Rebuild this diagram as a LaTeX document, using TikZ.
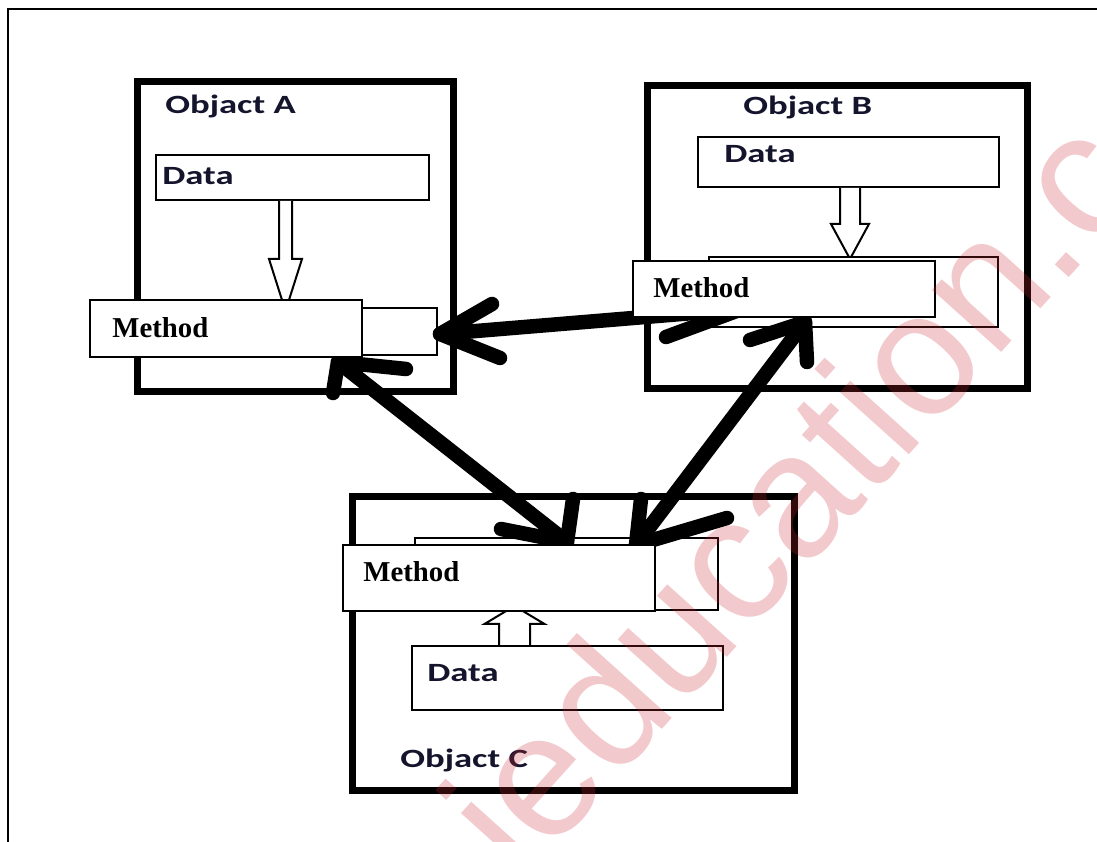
\documentclass[tikz,border=0pt]{standalone}
\usepackage{fontspec}
\setmainfont{Liberation Serif}
\newfontfamily\objfont[FakeStretch=1.39]{Carlito}
\newfontfamily\wmfont{Liberation Sans}
\definecolor{labelink}{RGB}{20,20,45}
\definecolor{wmred}{RGB}{205,40,50}
\tikzset{
  objbox/.style={draw, line width=0.14cm, inner sep=0pt},
  databox/.style={draw, line width=0.04cm, fill=white, inner sep=0pt},
  methbox/.style={draw, line width=0.05cm, fill=white, inner sep=0pt},
  hollow/.style={draw, line width=0.04cm, fill=white, line join=miter},
  fatline/.style={line width=0.29cm, line cap=round, line join=round},
  objtext/.style={anchor=base west, inner sep=0pt, text=labelink, font=\objfont\bfseries\fontsize{15}{18}\selectfont},
  methtext/.style={anchor=base west, inner sep=0pt, font=\bfseries\fontsize{16.4}{20}\selectfont},
  wmark/.style={anchor=base west, inner sep=0pt, rotate=48, text=wmred, text opacity=0.25, font=\wmfont\fontsize{100}{100}\selectfont}
}
\begin{document}
\begin{tikzpicture}
\useasboundingbox (0,0) rectangle (21.94,16.84);
\clip (0,0) rectangle (21.94,16.84);

% Drawing frame
\draw [line width=0.05cm] (0.16,0) -- (0.16,16.66) -- (21.94,16.66);%

% Drawing objects
\node [objbox, minimum width=6.32cm, minimum height=6.20cm] (objA) at (5.90,12.10) {};%
\node [objbox, minimum width=7.60cm, minimum height=6.06cm] (objB) at (16.74,12.09) {};%
\node [objbox, minimum width=8.84cm, minimum height=5.88cm] (objC) at (11.46,3.96) {};%

% Drawing data boxes
\node [databox, minimum width=5.46cm, minimum height=0.90cm] (dataA) at (5.85,13.29) {};%
\node [databox, minimum width=6.02cm, minimum height=1.00cm] (dataB) at (16.97,13.60) {};%
\node [databox, minimum width=6.22cm, minimum height=1.28cm] (dataC) at (11.35,3.28) {};%

% Drawing hollow arrows data -> method
\draw [hollow] ([xshift=-0.27cm]dataA.south) -- ++(0,-1.16) -- ++(-0.20,0) -- ++(0.33,-1.04) -- ++(0.33,1.04) -- ++(-0.20,0) -- ++(0,1.16);%
\draw [hollow] ([xshift=-0.17cm]dataB.south) -- ++(0,-0.72) -- ++(-0.18,0) -- ++(0.38,-0.70) -- ++(0.38,0.70) -- ++(-0.18,0) -- ++(0,0.72);%
\draw [hollow] ([xshift=-1.37cm]dataC.north) -- ++(0,0.42) -- ++(-0.29,0) -- ++(0.60,0.36) -- ++(0.60,-0.36) -- ++(-0.29,0) -- ++(0,-0.42);%

% Drawing method boxes behind
\node [databox, minimum width=3.94cm, minimum height=0.94cm] (methAback) at (6.77,10.21) {};%
\node [databox, minimum width=5.78cm, minimum height=1.40cm] (methBback) at (17.07,11.00) {};%
\node [databox, minimum width=6.06cm, minimum height=1.44cm] (methCback) at (11.33,5.36) {};%

% Drawing message arrow A <-> B
\coordinate (abA) at (8.80,10.16);%
\coordinate (abB) at (14.84,10.66);%
\draw [fatline] (abA) -- (abB);%
\draw [fatline] (9.84,10.76) -- (abA) -- (10.00,9.68);%
\draw [fatline] (13.32,10.10) -- (abB) -- (13.80,11.14);%

% Drawing message arrow A <-> C
\coordinate (acA) at (6.76,9.60);%
\coordinate (acC) at (11.34,6.00);%
\draw [fatline] (acA) -- (acC);%
\draw [fatline] (6.66,8.98) -- (acA) -- (8.12,9.46);%
\draw [fatline] (11.46,6.86) -- (acC) -- (10.02,6.26);%

% Drawing message arrow B <-> C
\coordinate (bcC) at (12.72,5.94);%
\coordinate (bcB) at (16.10,10.40);%
\draw [fatline] (bcC) -- (bcB);%
\draw [fatline] (12.82,6.86) -- (bcC) -- (14.54,6.48);%
\draw [fatline] (15.00,10.04) -- (bcB) -- (16.14,9.60);%

% Drawing method boxes in front
\node [methbox, minimum width=5.44cm, minimum height=1.14cm] (methA) at (4.52,10.27) {};%
\node [methbox, minimum width=6.04cm, minimum height=1.12cm] (methB) at (15.68,11.06) {};%
\node [methbox, minimum width=6.24cm, minimum height=1.32cm] (methC) at (9.98,5.28) {};%

% Marking labels
\node [objtext] (labA) at (3.30,14.57) {Objact A};%
\node [objtext] (labB) at (14.86,14.54) {Objact B};%
\node [objtext] (labC) at (8.00,1.48) {Objact C};%
\node [objtext] (txtdataA) at (3.24,13.14) {Data};%
\node [objtext] (txtdataB) at (14.48,13.58) {Data};%
\node [objtext] (txtdataC) at (8.54,3.20) {Data};%
\node [methtext] (txtmethA) at (2.24,10.08) {Method};%
\node [methtext] (txtmethB) at (13.06,10.88) {Method};%
\node [methtext] (txtmethC) at (7.26,5.20) {Method};%

% Marking watermark
\node [wmark] (wm) at (10.45,-0.85) {ieducation.com};%
\end{tikzpicture}
\end{document}
